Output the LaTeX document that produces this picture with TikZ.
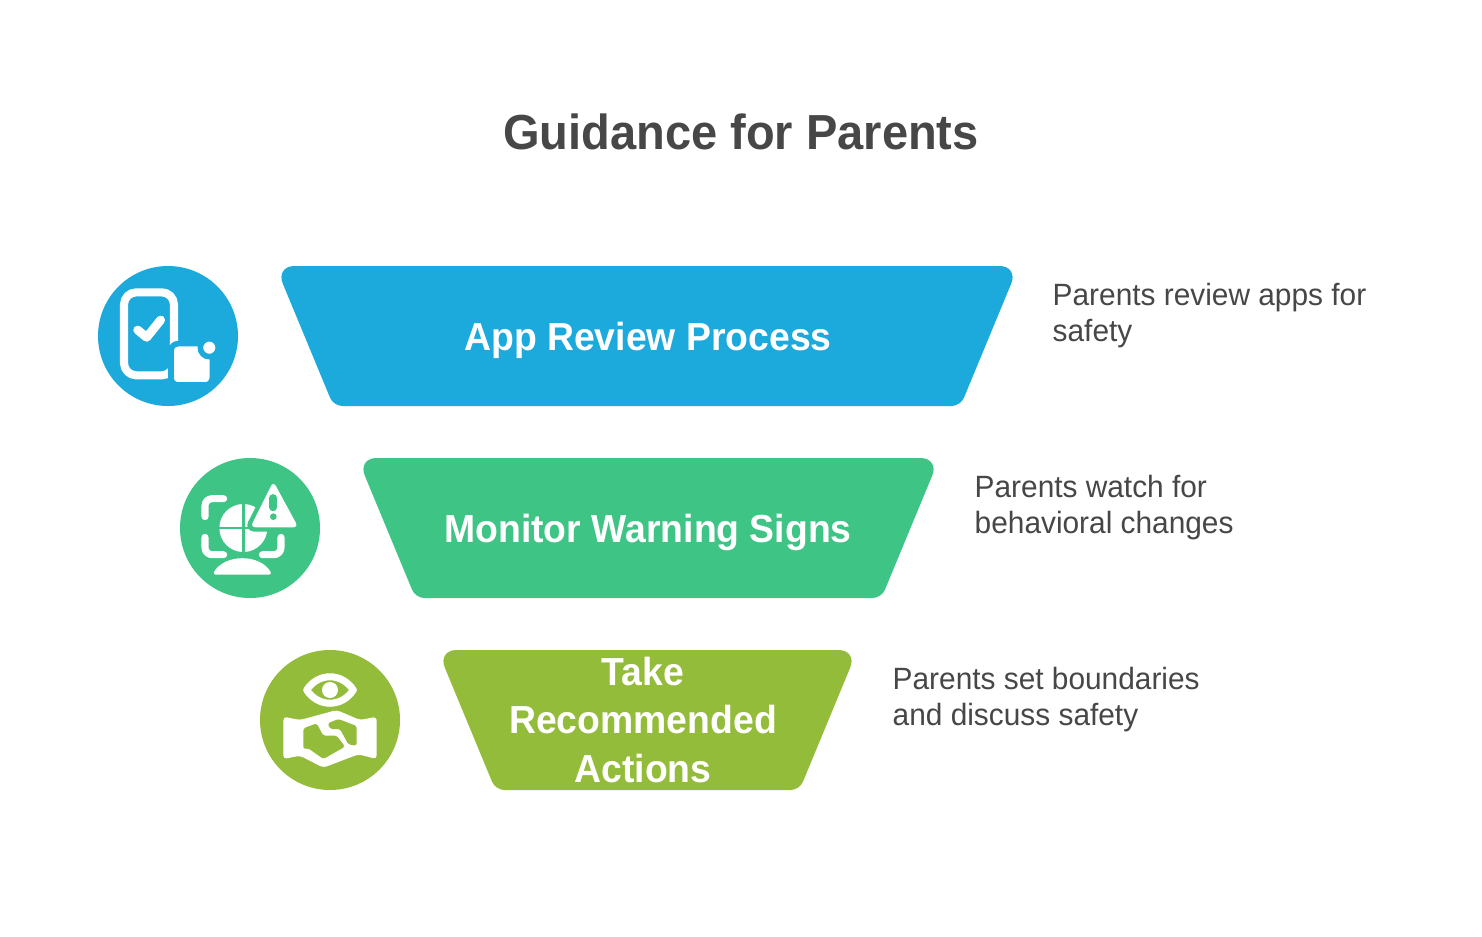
\documentclass[tikz,border=0pt]{standalone}
\usepackage{fontspec}
\setmainfont[FakeStretch=0.97, BoldFeatures={FakeStretch=0.955}]{Liberation Sans}
\definecolor{inkgrey}{HTML}{474747}
\definecolor{appblue}{HTML}{1CA9DC}
\definecolor{signgreen}{HTML}{3EC585}
\definecolor{actionolive}{HTML}{94BC3B}
\tikzset{
  headline/.style={text=inkgrey, font=\bfseries\fontsize{14}{16}\selectfont},
  bandlabel/.style={text=white, align=center, font=\bfseries\fontsize{11.12}{13.66}\selectfont},
  sidenote/.style={text=inkgrey, anchor=west, align=left, inner sep=0pt, font=\fontsize{8.75}{10.24}\selectfont},
  glyph/.style={draw=white, line cap=round, line join=round, line width=2pt},
}
\begin{document}
\begin{tikzpicture}[x=0.01cm, y=-0.01cm, line join=round]
\useasboundingbox (0,0) rectangle (1482,936);
\fill[white] (0,0) rectangle (1482,936);
\node[headline] (title) at (741,132) {Guidance for Parents};
% bands
\fill[appblue] (647,266) [rounded corners=5.4pt] -- (1018.5,266) [rounded corners=2.5pt] -- (960.5,406) -- (333.5,406) [rounded corners=5.4pt] -- (275.5,266) -- cycle;
\fill[signgreen] (648,458) [rounded corners=5.4pt] -- (939.5,458) [rounded corners=2.5pt] -- (881.5,598) -- (415.5,598) [rounded corners=5.4pt] -- (357.5,458) -- cycle;
\fill[actionolive] (647,650) [rounded corners=5.4pt] -- (857.5,650) [rounded corners=2.5pt] -- (799.5,790) -- (495.5,790) [rounded corners=5.4pt] -- (437.5,650) -- cycle;
\node[bandlabel] (app) at (648,340) {App Review Process};
\node[bandlabel] (monitor) at (648,532) {Monitor Warning Signs};
\node[bandlabel] (take) at (643,720) {Take\\Recommended\\Actions};
% side notes
\node[sidenote] (appnote) at (1052,316) {Parents review apps for\\safety};
\node[sidenote] (monitornote) at (974,508) {Parents watch for\\behavioral changes};
\node[sidenote] (takenote) at (892,700) {Parents set boundaries\\and discuss safety};
% badges
\fill[appblue] (168,336) circle[radius=70];
\fill[signgreen] (250,528) circle[radius=70];
\fill[actionolive] (330,720) circle[radius=70];
% phone icon
\begin{scope}[shift={(90,260)}, scale=1/3]
  \draw[glyph, line width=2.3pt, rounded corners=3.5pt] (102,97) rectangle (252,346);
  \draw[glyph, line width=2.5pt] (143,210) -- (170,232) -- (212,180);
  \fill[white, rounded corners=2pt, draw=appblue, line width=1.6pt] (243,251) rectangle (367,375);
  \fill[white, draw=appblue, line width=1.6pt] (358,263) circle[radius=27];
\end{scope}
% warning icon
\begin{scope}[shift={(175,452)}, scale=1/3]
  \draw[glyph, rounded corners=2pt] (90,194) -- (90,140) -- (146,140);
  \draw[glyph, rounded corners=2pt] (90,256) -- (90,308) -- (146,308);
  \draw[glyph, rounded corners=2pt] (318,256) -- (318,308) -- (262,308);
  \fill[white] (205,228) circle[radius=72];
  \draw[signgreen, line width=0.7pt] (205,150) -- (205,305) (128,228) -- (282,228);
  \fill[white, draw=signgreen, line width=2pt, rounded corners=1.5pt] (295,84) -- (374,228) -- (222,228) -- cycle;
  \fill[white, rounded corners=1.5pt] (295,88) -- (370,226) -- (226,226) -- cycle;
  \draw[signgreen, line cap=round, line width=2.2pt] (295,138) -- (295,166);
  \fill[signgreen] (295,194) circle[radius=10];
  \fill[white, rounded corners=1pt] (112,368) .. controls (150,305) and (254,305) .. (292,368) -- cycle;
\end{scope}
% handshake icon
\begin{scope}[shift={(255,645)}, scale=1/3]
  \draw[glyph, line width=2pt] (155,135) .. controls (190,82) and (260,82) .. (295,135) .. controls (260,188) and (190,188) .. cycle;
  \fill[white] (225,135) circle[radius=24];
  \fill[white, rounded corners=1pt] (85,215) -- (135,225) -- (245,195) -- (315,225) -- (365,215) -- (365,342) -- (310,328) -- (205,368) -- (135,332) -- (85,342) -- cycle;
  \fill[actionolive, rounded corners=0.5pt] (145,250) -- (185,235) -- (205,272) -- (245,272) -- (270,305) -- (205,342) -- (160,310) -- (145,312) -- cycle;
  \fill[actionolive, rounded corners=0.5pt] (218,235) -- (250,222) -- (305,243) -- (305,302) -- (280,298) -- (255,252) -- (226,252) -- cycle;
\end{scope}
\end{tikzpicture}
\end{document}
